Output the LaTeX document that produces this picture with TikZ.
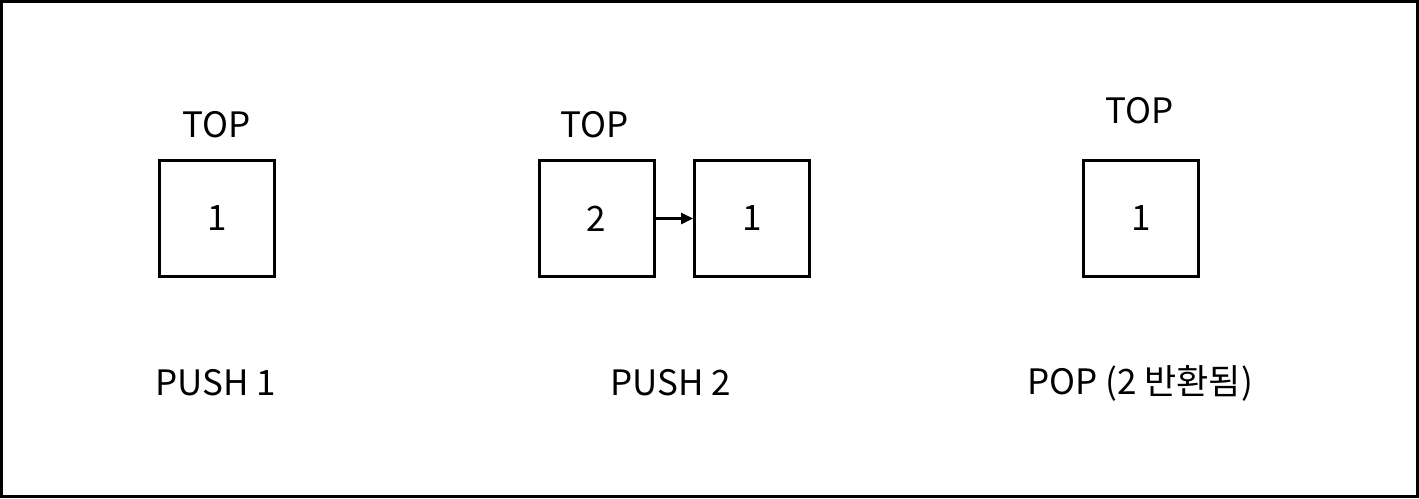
\documentclass[tikz,border=0pt]{standalone}
\usepackage{fontspec}
\setmainfont{Noto Sans CJK KR}
\usetikzlibrary{arrows.meta}
\begin{document}
\begin{tikzpicture}[x=1pt,y=-1pt,
  cell/.style={draw, line width=3pt, minimum width=115pt, minimum height=116pt, inner sep=0pt, font=\fontsize{35}{42}\selectfont},
  lbl/.style={inner sep=0pt, font=\fontsize{35}{42}\selectfont},
  link/.style={line width=2.6pt, -{Triangle[length=12pt,width=11pt]}}]
\useasboundingbox (0,0) rectangle (1419,498);
\draw[line width=3pt] (1.5,1.5) rectangle (1417.5,496.5);
% PUSH 1
\node[cell] (a1) at (217,218.5) {1};
\node[lbl] (t1) at (217,125) {TOP};
\node[lbl] (l1) at (216,383) {PUSH 1};
% PUSH 2
\node[cell] (b2) at (596.5,218.5) {2};
\node[cell] (b1) at (752,218.5) {1};
\node[lbl] (t2) at (595,125) {TOP};
\node[lbl] (l2) at (671,383) {PUSH 2};
\draw[link] (b2.east) -- (b1.west);
% POP
\node[cell] (c1) at (1141,218.5) {1};
\node[lbl] (t3) at (1140,111) {TOP};
\node[lbl] (l3) at (1140,383) {POP (2 반환됨)};
\end{tikzpicture}
\end{document}
